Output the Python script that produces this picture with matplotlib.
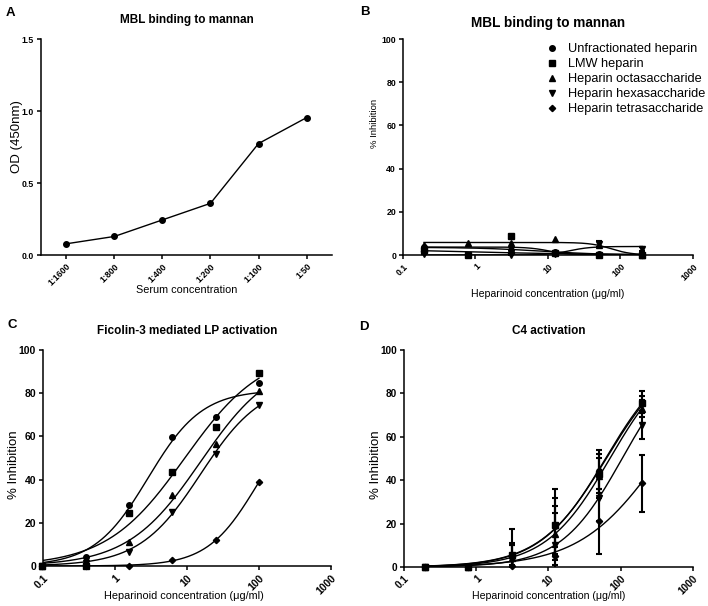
import numpy as np
import matplotlib
matplotlib.use("Agg")
import matplotlib.pyplot as plt

plt.rcParams['font.family'] = ['Liberation Sans', 'DejaVu Sans']

# Panel A: MBL binding to mannan (OD)
dilutions = ['1:1600', '1:800', '1:400', '1:200', '1:100', '1:50']
od_450 = [0.078, 0.129, 0.244, 0.359, 0.774, 0.954]

series_names = ['Unfractionated heparin', 'LMW heparin', 'Heparin octasaccharide',
                'Heparin hexasaccharide', 'Heparin tetrasaccharide']
series_markers = ['o', 's', '^', 'v', 'D']

# Panel B: MBL binding, % inhibition
conc_b = [0.195, 0.78, 3.125, 12.5, 50, 200]
inhib_b = {
    'Unfractionated heparin':  [3.5, np.nan, 2.5, 1.5, 0.5, 0.0],
    'LMW heparin':             [2.5, 0.0, 8.8, 0.8, 0.0, 0.0],
    'Heparin octasaccharide':  [4.8, 5.7, 5.4, 7.3, 4.5, 0.0],
    'Heparin hexasaccharide':  [0.3, np.nan, 0.0, 0.3, 5.0, 2.8],
    'Heparin tetrasaccharide': [2.0, np.nan, 0.8, 1.0, np.nan, 0.0],
}
err_b = {
    'Heparin hexasaccharide':  [0, 0, 0, 0, 1.3, 0.8],
}

# Panel C: Ficolin-3 mediated LP activation
conc_c = [0.098, 0.39, 1.56, 6.25, 25, 100]
inhib_c = {
    'Unfractionated heparin':  [0.0, 4.0, 28.2, 59.6, 69.1, 84.9],
    'LMW heparin':             [0.0, 0.0, 24.4, 43.5, 64.5, 89.2],
    'Heparin octasaccharide':  [0.0, 2.5, 11.1, 32.7, 56.5, 81.0],
    'Heparin hexasaccharide':  [0.0, 1.5, 6.6, 25.2, 52.0, 74.5],
    'Heparin tetrasaccharide': [0.0, 0.0, 0.0, 2.6, 11.9, 38.9],
}

# Panel D: C4 activation
conc_d = [0.195, 0.78, 3.125, 12.5, 50, 200]
inhib_d = {
    'Unfractionated heparin':  [0.0, 0.0, 5.0, 19.0, 44.0, 76.0],
    'LMW heparin':             [0.0, 0.0, 5.5, 19.5, 43.0, 75.5],
    'Heparin octasaccharide':  [0.0, 0.0, 4.0, 15.0, 42.0, 73.0],
    'Heparin hexasaccharide':  [0.0, 0.0, 3.0, 10.0, 32.0, 65.5],
    'Heparin tetrasaccharide': [0.0, 0.0, 0.3, 5.0, 21.0, 38.5],
}
err_d = {
    'Unfractionated heparin':  [0, 0, 5.0, 13.0, 8.0, 5.0],
    'LMW heparin':             [0, 0, 5.5, 16.5, 11.0, 3.5],
    'Heparin octasaccharide':  [0, 0, 6.0, 10.0, 8.0, 4.0],
    'Heparin hexasaccharide':  [0, 0, 14.5, 18.0, 11.0, 6.5],
    'Heparin tetrasaccharide': [0, 0, 0.5, 4.0, 15.0, 13.0],
}


def fit_sigmoid(x, y, top=None):
    # variable slope dose-response, bottom fixed at 0 (grid search)
    x = np.asarray(x, float)
    y = np.asarray(y, float)
    m = ~np.isnan(y)
    lx, yy = np.log10(x[m]), y[m]
    le = np.arange(-2, 4, 0.01)[:, None, None]
    h = np.arange(-3, 3.001, 0.02)[None, :, None]
    f = 1.0 / (1.0 + 10 ** ((le - lx) * h))
    if top is None:
        T = (f * yy).sum(-1) / (f * f).sum(-1)
        T = np.clip(T, 0, 100)
    else:
        T = np.full(f.shape[:2], float(top))
    sse = ((T[..., None] * f - yy) ** 2).sum(-1)
    i, j = np.unravel_index(np.argmin(sse), sse.shape)
    return T[i, j], le[i, 0, 0], h[0, j, 0]


def sigmoid(x, T, le, h):
    return T / (1.0 + 10 ** ((le - np.log10(x)) * h))


def style_axes(ax, tsize):
    for s in ['top', 'right']:
        ax.spines[s].set_visible(False)
    for s in ['left', 'bottom']:
        ax.spines[s].set_linewidth(1.1)
    ax.tick_params(direction='out', length=3, width=1.1, labelsize=tsize, pad=2)
    for lab in ax.get_xticklabels() + ax.get_yticklabels():
        lab.set_fontweight('bold')


def place_labels(ax, title, tsize, title_y, xl, xsize, xpos, yl, ysize, ypos):
    ax.set_title(title, fontsize=tsize, fontweight='bold', y=title_y, va='center', pad=0)
    ax.set_xlabel(xl, fontsize=xsize)
    ax.set_ylabel(yl, fontsize=ysize)
    ax.xaxis.set_label_coords(*xpos)
    ax.yaxis.set_label_coords(*ypos)
    ax.xaxis.label.set_va('center')
    ax.yaxis.label.set_va('center')


def dose_panel(ax, conc, data, errs, top=None):
    xs = np.logspace(np.log10(conc[0]), np.log10(conc[-1]), 300)
    for name, mk in zip(series_names, series_markers):
        y = np.array(data[name], float)
        ms = 3.2 if mk == 'D' else 4
        e = errs.get(name) if errs else None
        if e is not None:
            ax.errorbar(conc, y, yerr=e, fmt='none', ecolor='black',
                        elinewidth=1.5, capsize=2.5, capthick=1.5, zorder=3)
        ax.plot(conc, y, mk, color='black', ms=ms, clip_on=False, zorder=4, label=name)
        T, le, h = fit_sigmoid(conc, y, top)
        ax.plot(xs, sigmoid(xs, T, le, h), color='black', lw=1.0, zorder=2)
    ax.set_xscale('log')
    ax.set_xlim(0.1, 1000)
    ax.set_ylim(0, 100)
    ax.set_xticks([0.1, 1, 10, 100, 1000])
    ax.set_xticklabels(['0.1', '1', '10', '100', '1000'], rotation=45, ha='right',
                       rotation_mode='anchor')
    ax.minorticks_off()
    ax.set_yticks([0, 20, 40, 60, 80, 100])


fig = plt.figure(figsize=(7.08, 6.06), dpi=100)
ax_a = fig.add_axes([0.0579, 0.5792, 0.4110, 0.3564])
ax_b = fig.add_axes([0.5692, 0.5792, 0.4096, 0.3564])
ax_c = fig.add_axes([0.0607, 0.0660, 0.4068, 0.3564])
ax_d = fig.add_axes([0.5706, 0.0644, 0.4082, 0.3581])

xlab = 'Heparinoid concentration (\u03bcg/ml)'

# A
xi = np.arange(len(dilutions))
ax_a.plot(xi, od_450, '-o', color='black', ms=4, lw=1.0, clip_on=False)
ax_a.set_xlim(-0.53, len(dilutions) - 0.47)
ax_a.set_ylim(0, 1.5)
ax_a.set_yticks([0.0, 0.5, 1.0, 1.5])
ax_a.set_xticks(xi)
ax_a.set_xticklabels(dilutions, rotation=45, ha='right', rotation_mode='anchor')
style_axes(ax_a, 6.3)
place_labels(ax_a, 'MBL binding to mannan', 8.5, 1.088,
             'Serum concentration', 7.8, (0.50, -0.162),
             'OD (450nm)', 9.5, (-0.082, 0.55))

# B
dose_panel(ax_b, conc_b, inhib_b, err_b)
style_axes(ax_b, 6.3)
place_labels(ax_b, 'MBL binding to mannan', 9.8, 1.074,
             xlab, 7.6, (0.50, -0.18),
             '% Inhibition', 6.8, (-0.097, 0.61))
ax_b.legend(loc='upper left', bbox_to_anchor=(0.475, 1.003), frameon=False, fontsize=9.2,
            handletextpad=0.7, labelspacing=0.23, handlelength=1.0, borderaxespad=0)

# C
dose_panel(ax_c, conc_c, inhib_c, None)
style_axes(ax_c, 7.5)
place_labels(ax_c, 'Ficolin-3 mediated LP activation', 8.5, 1.088,
             xlab, 7.8, (0.49, -0.139),
             '% Inhibition', 9.5, (-0.10, 0.47))

# D
dose_panel(ax_d, conc_d, inhib_d, err_d, top=100)
style_axes(ax_d, 7.2)
place_labels(ax_d, 'C4 activation', 8.5, 1.088,
             xlab, 7.6, (0.50, -0.134),
             '% Inhibition', 9.5, (-0.097, 0.47))

for lbl, x, y in [('A', 0.0075, 0.974), ('B', 0.508, 0.975), ('C', 0.0099, 0.459), ('D', 0.507, 0.455)]:
    fig.text(x, y, lbl, fontsize=9.5, fontweight='bold', va='baseline', ha='left')

fig.savefig('out.png', dpi=100)
